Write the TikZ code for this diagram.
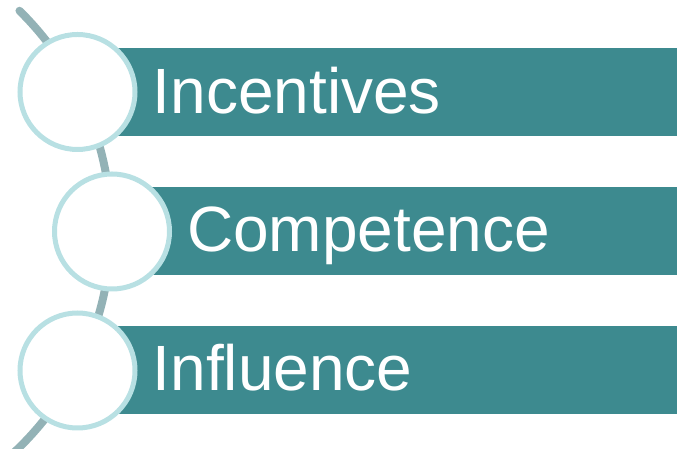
\documentclass[tikz,border=0pt]{standalone}
\usepackage{fontspec}
\setmainfont{Liberation Sans}
\usepackage{tikz}
\usetikzlibrary{calc}

\definecolor{barteal}{HTML}{3D8A8F}
\definecolor{ringblue}{HTML}{B8E0E3}
\definecolor{spine}{HTML}{93B2B6}

\begin{document}
\begin{tikzpicture}[
  x=1pt, y=1pt,
  bar/.style={
    fill=barteal, anchor=west, inner sep=0pt,
    minimum height=88pt,
  },
  ring/.style={
    circle, draw=ringblue, line width=5pt, fill=white,
    minimum size=115pt, inner sep=0pt,
  },
  itemtext/.style={
    anchor=base west, inner sep=0pt, text=white,
    font=\fontsize{64}{64}\selectfont,
  },
]
\useasboundingbox (0,0) rectangle (677,449);

% centres of the three rings
\coordinate (c1) at (77.5,357);
\coordinate (c2) at (112,217.5);
\coordinate (c3) at (77.5,78.5);

% curved spine behind the rings
\draw[spine, line width=8pt, line cap=round]
  (-195,220) ++(45.5:306) arc[start angle=45.5, end angle=-48, radius=306];

% bars
\node[bar, minimum width=599.5pt] (b1) at (c1) {};
\node[bar, minimum width=565pt]   (b2) at (c2) {};
\node[bar, minimum width=599.5pt] (b3) at (c3) {};

% rings
\node[ring] (r1) at (c1) {};
\node[ring] (r2) at (c2) {};
\node[ring] (r3) at (c3) {};

% labels
\node[itemtext] (t1) at ($(c1)+(75,-21.5)$) {Incentives};
\node[itemtext] (t2) at ($(c2)+(75,-20)$) {Competence};
\node[itemtext] (t3) at ($(c3)+(75,-20.5)$) {Influence};

\end{tikzpicture}
\end{document}
